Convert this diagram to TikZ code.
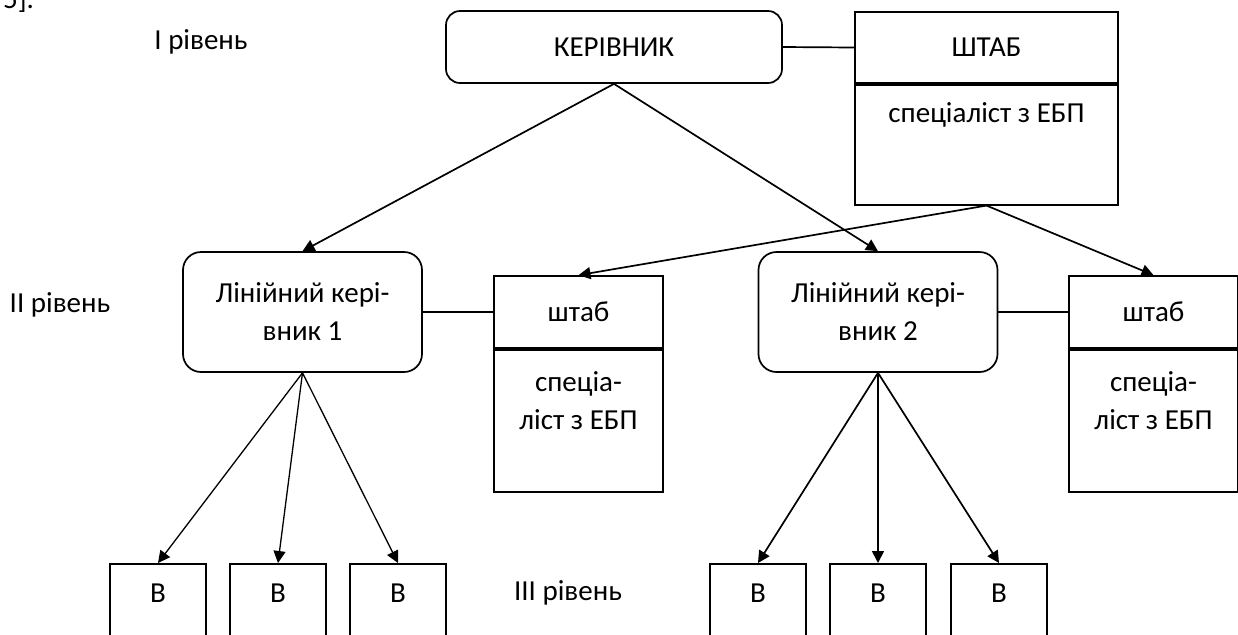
\documentclass[tikz,border=0pt]{standalone}
\usepackage{fontspec}
\setmainfont{Carlito}
\usetikzlibrary{arrows.meta, positioning, shapes}

\begin{document}
\begin{tikzpicture}[x=0.5pt, y=-0.5pt,
    every node/.style={font=\fontsize{14.5}{19}\selectfont},
    boss/.style={draw, line width=0.85pt, rounded corners=7pt, align=center, minimum width=168pt, minimum height=36pt},
    linebox/.style={draw, line width=0.85pt, rounded corners=9pt, align=center, minimum width=119.5pt, minimum height=60pt},
    staffbox/.style={draw, line width=0.85pt, align=center, minimum width=84.5pt, minimum height=36pt},
    lowbox/.style={draw, line width=0.85pt, minimum width=48pt, minimum height=70pt, anchor=north},
    arr/.style={-{Triangle[length=6pt,width=6pt]}, line width=0.85pt}]
        \useasboundingbox (0,0) rectangle (1238,634);
        \node[anchor=base west] (note) at (-4,8) {5].};
        % levels
        \node (lvl1) at (201,42) {I рівень};
        \node (lvl2) at (60,305) {II рівень};
        \node (lvl3) at (568,593) {III рівень};
        % level I
        \node[boss] (boss) at (614,47) {КЕРІВНИК};
        \node[staffbox, minimum width=131.5pt, minimum height=35.5pt] (hq) at (986.5,47.5) {ШТАБ};
        \node[staffbox, minimum width=131.5pt, minimum height=60pt, anchor=north] (hqspec) at (hq.south) {};
        \node (hqtext) at (986.5,115) {спеціаліст з ЕБП};
        % level II
        \node[linebox] (lk1) at (302.5,312) {Лінійний кері-\\вник 1};
        \node[linebox] (lk2) at (878,312) {Лінійний кері-\\вник 2};
        \node[staffbox] (st1) at (578.5,312) {штаб};
        \node[staffbox, minimum height=71pt, anchor=north] (st1spec) at (st1.south) {};
        \node[align=center] (st1text) at (578.5,401) {спеціа-\\ліст з ЕБП};
        \node[staffbox] (st2) at (1153.5,312) {штаб};
        \node[staffbox, minimum height=71pt, anchor=north] (st2spec) at (st2.south) {};
        \node[align=center] (st2text) at (1153.5,401) {спеціа-\\ліст з ЕБП};
        % level III
        \foreach \n/\x in {b1/158,b2/278,b3/398,b4/758,b5/878,b6/999}
        {
            \node[lowbox] (\n) at (\x,563) {};
            \node (\n text) at (\x,593) {В};
        }
        \draw[line width=0.85pt] (boss.east) -- (hq.west);
        \draw[line width=0.85pt] (lk1.east) -- (st1.west);
        \draw[line width=0.85pt] (lk2.east) -- (st2.west);
        \foreach \from/\to in
        {boss/lk1,boss/lk2,hqspec/st1,hqspec/st2} \draw[arr] (\from.south) -- (\to.north);
        \foreach \to in
        {b1,b2,b3} \draw[arr, line width=0.65pt] (lk1.south) -- (\to.north);
        \foreach \to in
        {b4,b5,b6} \draw[arr] (lk2.south) -- (\to.north);
\end{tikzpicture}
\end{document}
